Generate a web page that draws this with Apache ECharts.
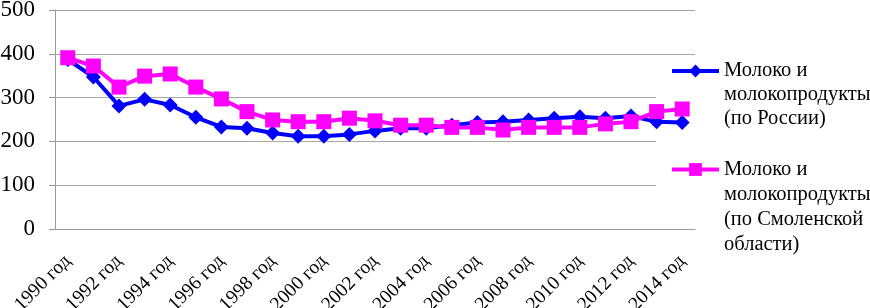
<!DOCTYPE html>
<html>
<head>
<meta charset="utf-8">
<script src="https://cdn.jsdelivr.net/npm/echarts@6/dist/echarts.min.js"></script>
<style>
  html, body { margin: 0; padding: 0; background: #fff; }
  #chart { width: 870px; height: 308px; }
</style>
</head>
<body>
<div id="chart"></div>
<script>
var years = ['1990 год', '1991 год', '1992 год', '1993 год', '1994 год', '1995 год', '1996 год',
  '1997 год', '1998 год', '1999 год', '2000 год', '2001 год', '2002 год', '2003 год', '2004 год',
  '2005 год', '2006 год', '2007 год', '2008 год', '2009 год', '2010 год', '2011 год', '2012 год',
  '2013 год', '2014 год'];
var russia = [387, 347, 281, 296, 283, 255, 233, 230, 219, 212, 212, 216, 224, 230, 230,
  237, 243, 245, 249, 253, 256, 253, 258, 245, 243];
var smolensk = [391, 372, 324, 349, 354, 324, 297, 268, 249, 245, 245, 253, 247, 237, 237,
  232, 232, 226, 232, 232, 232, 240, 245, 268, 274];
var yTicks = [0, 100, 200, 300, 400, 500];

var nameRu = 'Молоко и\nмолокопродукты\n(по России)';
var nameSm = 'Молоко и\nмолокопродукты\n(по Смоленской\nобласти)';

var serif = 'Liberation Serif';
var chart = echarts.init(document.getElementById('chart'));

// лишние пустые строки сверху, чтобы значок стоял у первой строки подписи
function topAligned(name) {
  var n = name.split('\n').length;
  return new Array(n).join('\n') + name;
}

var option = {
  animation: false,
  grid: { left: 55, right: 175, top: 10, bottom: 79, outerBoundsMode: 'none' },
  graphic: [{
    type: 'rect', z: 1,
    shape: { x: 656, y: 60, width: 214, height: 166 },
    style: { fill: '#fff' }
  }],
  legend: [{
    data: [nameRu],
    orient: 'vertical',
    left: 665, top: 6,
    itemWidth: 47, itemHeight: 16,
    lineStyle: { width: 4 },
    formatter: topAligned,
    textStyle: { fontFamily: serif, fontSize: 20.5, lineHeight: 24, color: '#000' }
  }, {
    data: [nameSm],
    orient: 'vertical',
    left: 665, top: 77,
    itemWidth: 47, itemHeight: 16,
    lineStyle: { width: 4 },
    formatter: topAligned,
    textStyle: { fontFamily: serif, fontSize: 20.5, lineHeight: 25, color: '#000' }
  }],
  xAxis: {
    type: 'category',
    data: years,
    boundaryGap: true,
    axisLine: { lineStyle: { color: '#999' } },
    axisTick: { interval: 0, length: 4, lineStyle: { color: '#999' } },
    axisLabel: {
      interval: 1, rotate: 45, margin: 29,
      fontFamily: serif, fontSize: 19.5, color: '#000'
    }
  },
  yAxis: {
    type: 'value',
    min: yTicks[0], max: yTicks[yTicks.length - 1], interval: 100,
    axisLine: { show: true, lineStyle: { color: '#999' } },
    axisTick: { show: true, length: 6, lineStyle: { color: '#999' } },
    splitLine: { lineStyle: { color: '#a6a6a6' } },
    axisLabel: { fontFamily: serif, fontSize: 23, color: '#000', margin: 20 }
  },
  series: [{
    name: nameRu,
    type: 'line',
    data: russia,
    symbol: 'diamond',
    symbolSize: 15,
    color: '#0000ff',
    lineStyle: { width: 4, color: '#0000ff' },
    itemStyle: { color: '#0000ff' }
  }, {
    name: nameSm,
    type: 'line',
    data: smolensk,
    symbol: 'rect',
    symbolSize: 15,
    color: '#ff00ff',
    lineStyle: { width: 4, color: '#ff00ff' },
    itemStyle: { color: '#ff00ff' }
  }]
};
chart.setOption(option);
</script>
</body>
</html>
